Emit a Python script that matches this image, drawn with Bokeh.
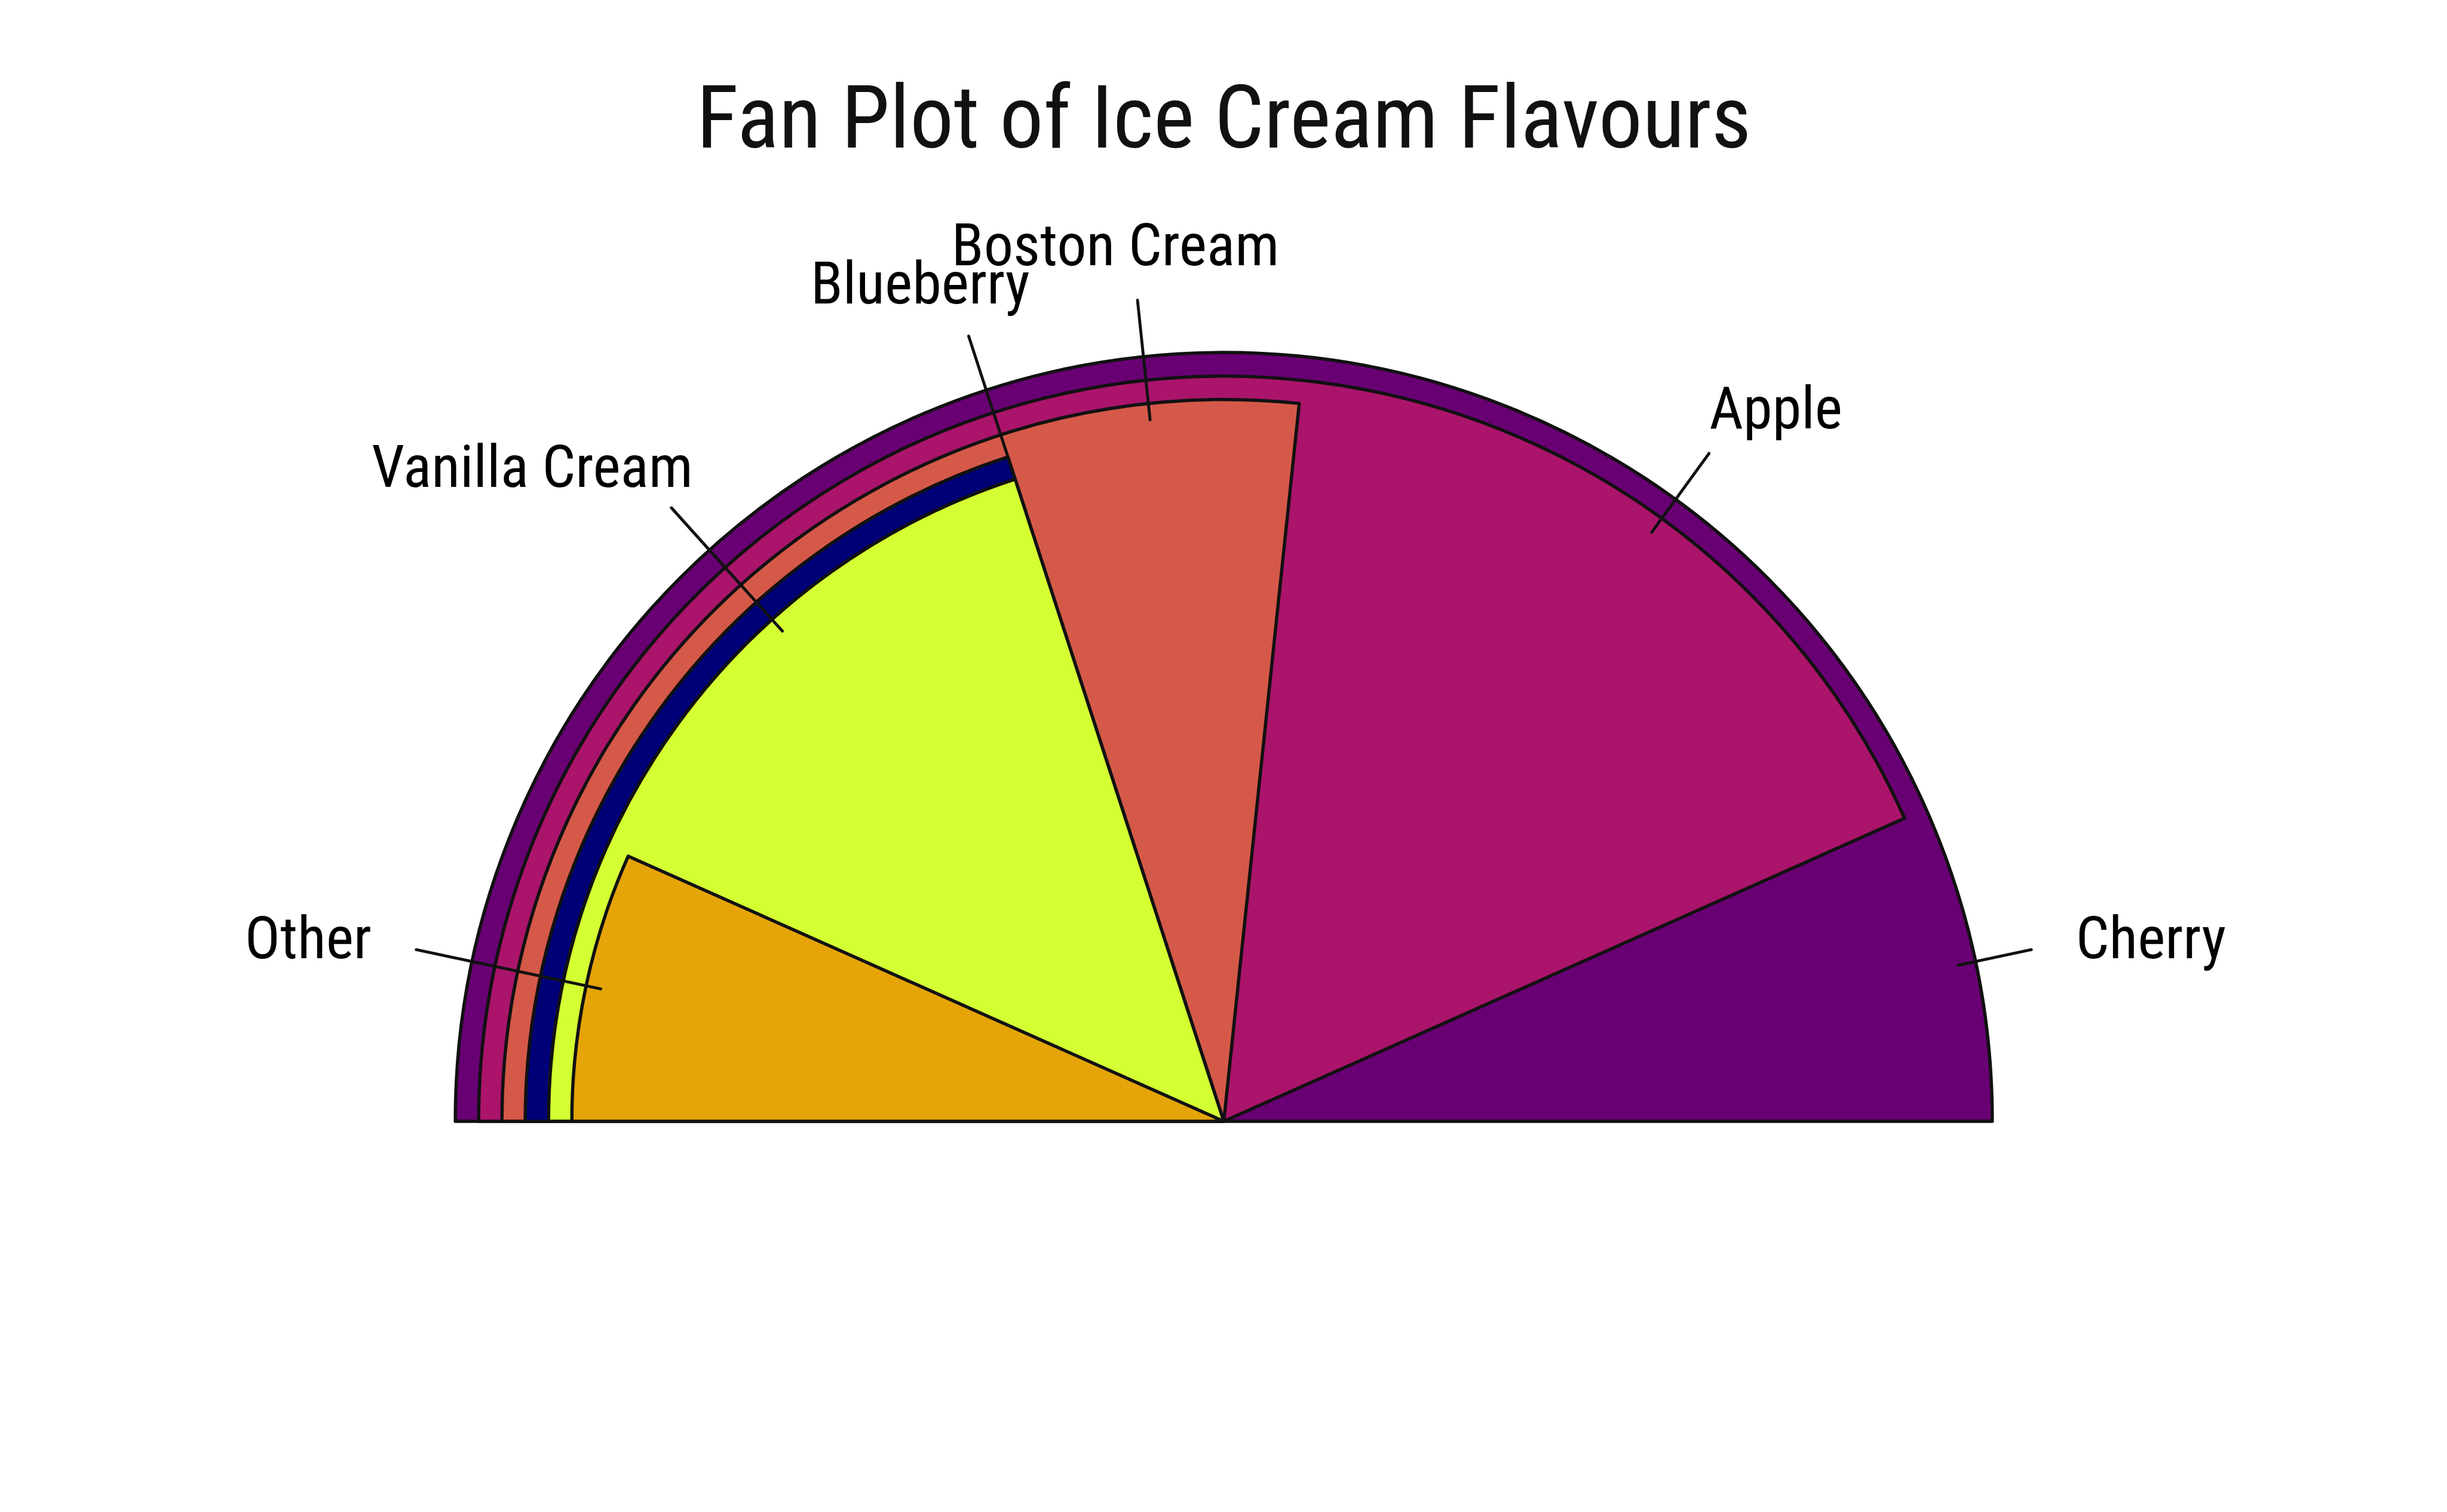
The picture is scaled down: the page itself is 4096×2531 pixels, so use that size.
import math
from bokeh.plotting import figure
from bokeh.models import Range1d
from bokeh.core.properties import value
from bokeh.embed import file_html
from bokeh.resources import INLINE

# ---- data ----
flavours = ["Cherry", "Apple", "Boston Cream", "Blueberry", "Vanilla Cream", "Other"]
shares = [30, 26, 16, 12, 12, 4]
colours = ["#680073", "#AB146B", "#D55949", "#000077", "#D4FF33", "#E5A407"]
title_text = "Fan Plot of Ice Cream Flavours"

# ---- layout (reference pixel units, y measured upward) ----
REF_W, REF_H = 4200, 2595
W, H = 4096, 2531
S = W / REF_W
CX, CY = 2100, REF_H - 1924
R0 = 1319
SHRINK = 40
LINE_IN = 0.977
LINE_OUT = 1417
LABEL_RX = 1498
LABEL_RY = 1512
FONT = "Roboto Condensed, Liberation Sans Narrow, Roboto"
LW = 5.6 * S

p = figure(width=W, height=H, x_range=Range1d(0, REF_W), y_range=Range1d(0, REF_H),
           output_backend="svg", toolbar_location=None, min_border=0,
           x_axis_location=None, y_axis_location=None)
p.grid.visible = False
p.outline_line_color = None
p.background_fill_color = "white"
p.border_fill_color = "white"

order = sorted(range(len(shares)), key=lambda i: -shares[i])
mx = max(shares)
spans = [math.pi * shares[i] / mx for i in order]
radii = [R0 - k * SHRINK for k in range(len(order))]

for k, i in enumerate(order):
    p.wedge(x=[CX], y=[CY], radius=[radii[k]],
            start_angle=[math.pi - spans[k]], end_angle=[math.pi],
            direction="anticlock", fill_color=colours[i],
            line_color="#111111", line_width=LW, line_join="round")

for k, i in enumerate(order):
    nxt = spans[k + 1] if k + 1 < len(spans) else 0.0
    a = math.pi - (spans[k] + nxt) / 2
    ca, sa = math.cos(a), math.sin(a)
    r_in = radii[k] * LINE_IN
    p.segment(x0=[CX + r_in * ca], y0=[CY + r_in * sa],
              x1=[CX + LINE_OUT * ca], y1=[CY + LINE_OUT * sa],
              line_color="#111111", line_width=LW * 0.9, line_cap="round")
    fx = (1 - ca) / 2
    p.text(x=[CX + LABEL_RX * ca], y=[CY + LABEL_RY * sa], text=[flavours[i]],
           anchor=value((fx, "center")),
           text_font=value(FONT), text_font_size=f"{101 * S:.1f}px",
           text_color="#000000")

p.text(x=[REF_W / 2], y=[REF_H - 201], text=[title_text],
       text_align="center", text_baseline="alphabetic",
       text_font=value(FONT), text_font_size=f"{150 * S:.1f}px",
       text_color="#111111")

open("out.html", "w").write(file_html(p, INLINE))
